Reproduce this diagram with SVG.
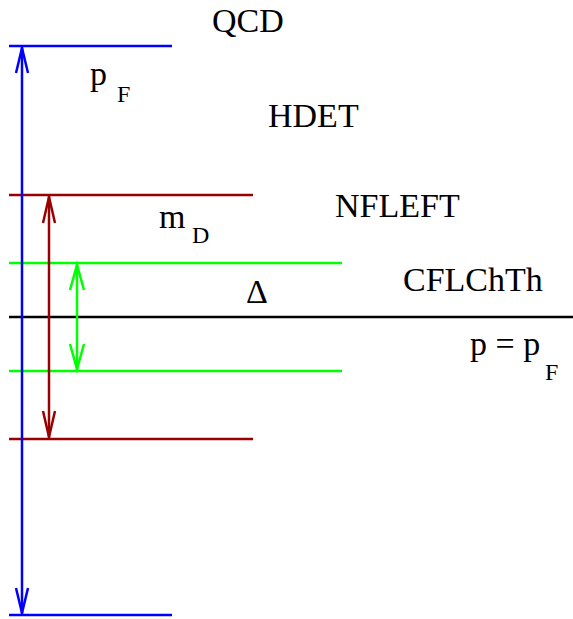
<svg xmlns="http://www.w3.org/2000/svg" width="573" height="619" viewBox="0 0 573 619">
<style>
line{stroke-width:2.5;fill:none}
.b{stroke:#0000ff}.r{stroke:#990000}.g{stroke:#00ff00}.k{stroke:#000}
polyline{fill:none;stroke-width:2.5}
</style>
<rect width="573" height="619" fill="#fff"/>
<g id="levels">
<line class="b" x1="9" y1="46" x2="172" y2="46"/>
<line class="b" x1="9" y1="615" x2="172" y2="615"/>
<line class="r" x1="9" y1="195" x2="253" y2="195"/>
<line class="r" x1="9" y1="439" x2="253" y2="439"/>
<line class="g" x1="9" y1="263" x2="342" y2="263"/>
<line class="g" x1="9" y1="371" x2="342" y2="371"/>
<line class="k" x1="9" y1="317" x2="573" y2="317"/>
</g>
<g id="connectors">
<line class="b" x1="22" y1="47" x2="22" y2="614"/>
<polyline class="b" points="16,73 22,48 28,73"/>
<polyline class="b" points="16,588 22,613 28,588"/>
<line class="r" x1="49" y1="196" x2="49" y2="438"/>
<polyline class="r" points="43,223 49,197 55,223"/>
<polyline class="r" points="43,411 49,437 55,411"/>
<line class="g" x1="77" y1="264" x2="77" y2="370"/>
<polyline class="g" points="70,290 77,265 84,290"/>
<polyline class="g" points="70,344 77,369 84,344"/>
</g>
<g id="labels" font-family="Liberation Serif" font-size="34" fill="#000">
<text x="212" y="32">QCD</text>
<text x="268" y="127">HDET</text>
<text x="335" y="217">NFLEFT</text>
<text x="403" y="291">CFLChTh</text>
<text x="246" y="303">Δ</text>
<text x="90" y="85">p</text><text font-size="24" x="117" y="102">F</text>
<text x="159" y="228">m</text><text font-size="24" x="192" y="243">D</text>
<text x="470" y="355">p = p</text><text font-size="24" x="545" y="380">F</text>
</g>
</svg>
